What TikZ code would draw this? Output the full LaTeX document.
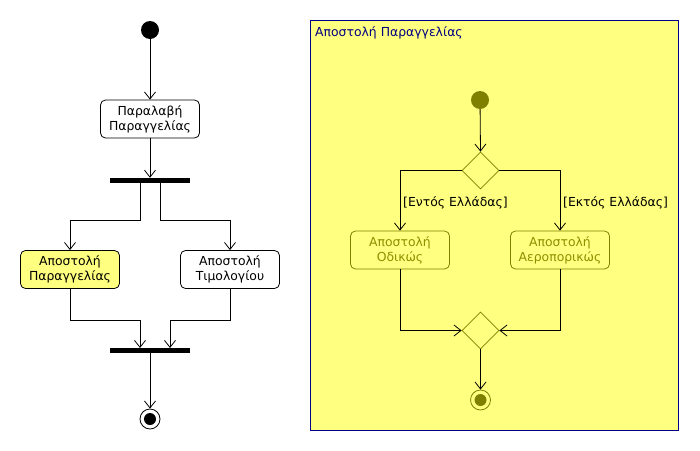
\documentclass[tikz,border=0pt]{standalone}
\usepackage{fontspec}
\setmainfont{DejaVu Sans}
\usetikzlibrary{arrows.meta,shapes.geometric}
\definecolor{bgyel}{HTML}{FFFF80}
\definecolor{olv}{HTML}{808000}
\definecolor{olvt}{HTML}{8F8F00}
\definecolor{navyb}{HTML}{000080}
\tikzset{
  flow/.style={draw=black, line width=0.8pt, -{Straight Barb[length=7pt,width=11pt,line width=0.8pt]}},
  act/.style={draw=black, line width=0.8pt, rounded corners=5pt, minimum width=99pt, minimum height=38pt, align=center, font=\fontsize{12.4}{15}\selectfont, inner sep=0pt},
  oact/.style={act, draw=olv, text=olvt, fill=bgyel},
  bar/.style={fill=black, draw=none, minimum width=80pt, minimum height=5pt, inner sep=0pt},
  dec/.style={diamond, draw=olv, line width=0.8pt, minimum width=37pt, minimum height=37pt, inner sep=0pt, fill=bgyel},
  lbl/.style={font=\fontsize{12.4}{15}\selectfont, inner sep=0pt, anchor=west},
}
\begin{document}
\begin{tikzpicture}[x=1pt,y=-1pt]
\useasboundingbox (0,0) rectangle (700,450);
% left diagram
\node[circle, fill=black, minimum size=18pt, inner sep=0pt] (s1) at (150,30) {};
\node[act, fill=white] (recv) at (150,119) {Παραλαβή\\Παραγγελίας};
\node[bar] (fork) at (150,180.5) {};
\node[act, fill=bgyel] (ship) at (70,269.5) {Αποστολή\\Παραγγελίας};
\node[act, fill=white] (inv) at (230,269.5) {Αποστολή\\Τιμολογίου};
\node[bar] (join) at (150,350.5) {};
\node[circle, draw=black, line width=0.8pt, fill=white, minimum size=20pt, inner sep=0pt] (f1) at (150,419) {};
\node[circle, fill=black, minimum size=12pt, inner sep=0pt] (f1i) at (150,419) {};
\coordinate (fa) at (140,183);
\coordinate (fb) at (160,183);
\coordinate (ja) at (140,348);
\coordinate (jb) at (170,348);
\draw[flow] (s1) -- (recv);
\draw[flow] (recv) -- (fork.north);
\draw[flow] (fa) |- (70,220) -- (ship.north);
\draw[flow] (fb) |- (230,220) -- (inv.north);
\draw[flow] (ship.south) |- (140,320) -- (ja);
\draw[flow] (inv.south) |- (170,320) -- (jb);
\draw[flow] (join.south) -- (f1);
% right frame
\node[draw=navyb, fill=bgyel, line width=0.8pt, minimum width=368pt, minimum height=410pt, inner sep=0pt] (frame) at (494.5,225) {};
\node[text=navyb, lbl] (title) at (315,33) {Αποστολή Παραγγελίας};
\node[circle, fill=olv, minimum size=18pt, inner sep=0pt] (s2) at (480,100) {};
\node[dec] (d1) at (480.5,170.5) {};
\node[oact] (road) at (400,250) {Αποστολή\\Οδικώς};
\node[oact] (air) at (560,250) {Αποστολή\\Αεροπορικώς};
\node[dec] (d2) at (480.5,330.5) {};
\node[circle, draw=olv, line width=0.8pt, fill=bgyel, minimum size=20pt, inner sep=0pt] (f2) at (480.5,400) {};
\node[circle, fill=olv, minimum size=12pt, inner sep=0pt] (f2i) at (480.5,400) {};
\draw[flow] (s2) -- (d1.north);
\draw[flow] (d1.west) -| (road.north);
\draw[flow] (d1.east) -| (air.north);
\draw[flow] (road.south) |- (d2.west);
\draw[flow] (air.south) |- (d2.east);
\draw[flow] (d2.south) -- (f2);
\node[lbl] (lin) at (403,203) {[Εντός Ελλάδας]};
\node[lbl] (lout) at (563,203) {[Εκτός Ελλάδας]};
\end{tikzpicture}
\end{document}
